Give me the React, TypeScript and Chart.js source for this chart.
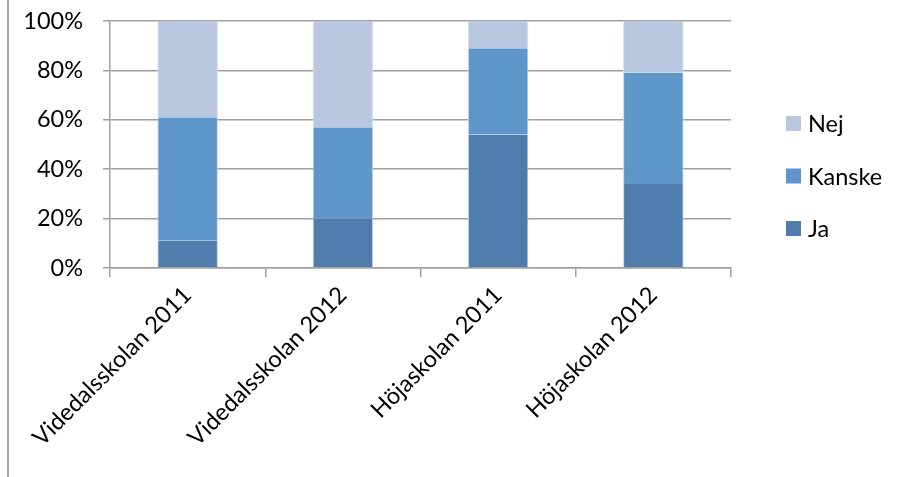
import React, { useEffect, useRef } from "react";
import { Chart, registerables } from "chart.js";

Chart.register(...registerables);

const categories = ["Videdalsskolan 2011", "Videdalsskolan 2012", "Höjaskolan 2011", "Höjaskolan 2012"];
const jaValues = [11, 20, 54, 34];
const kanskeValues = [50, 37, 35, 45];
const nejValues = [39, 43, 11, 21];
const yTicks = [0, 20, 40, 60, 80, 100];

const FONT = "Lato, 'Liberation Sans', sans-serif";
const FONT_SIZE = 23.5;

const legendPlugin = {
  id: "customLegend",
  afterDraw(chart: any) {
    const ctx = chart.ctx;
    const ds = chart.data.datasets.slice().reverse();
    const area = chart.chartArea;
    const x = area.right + 55;
    const centerY = 176;
    const gap = 52.5;
    ctx.save();
    ctx.font = `${FONT_SIZE}px ${FONT}`;
    ctx.textBaseline = "middle";
    ctx.textAlign = "left";
    ds.forEach((d: any, i: number) => {
      const cy = centerY + (i - (ds.length - 1) / 2) * gap;
      ctx.fillStyle = d.backgroundColor;
      ctx.fillRect(x, cy - 7.5, 15, 15);
      ctx.fillStyle = "#000";
      ctx.fillText(d.label, x + 22, cy + 1);
    });
    ctx.restore();
  },
};

const borderPlugin = {
  id: "leftBorder",
  beforeDraw(chart: any) {
    const ctx = chart.ctx;
    ctx.save();
    ctx.fillStyle = "#FFFFFF";
    ctx.fillRect(0, 0, chart.width, chart.height);
    ctx.fillStyle = "#A6A6A6";
    ctx.fillRect(7, 0, 2, chart.height);
    ctx.restore();
  },
};

export default function App() {
  const ref = useRef<HTMLCanvasElement>(null);
  useEffect(() => {
    if (!ref.current) return;
    const chart = new Chart(ref.current, {
      type: "bar",
      data: {
        labels: categories,
        datasets: [
          { label: "Ja", data: jaValues, backgroundColor: "#4F7CAC", borderColor: "#C9D6E8", borderWidth: { left: 1, right: 1 } as any, barPercentage: 0.39, categoryPercentage: 1 },
          { label: "Kanske", data: kanskeValues, backgroundColor: "#5F96CA", borderColor: "#C9D6E8", borderWidth: { left: 1, right: 1 } as any, barPercentage: 0.39, categoryPercentage: 1 },
          { label: "Nej", data: nejValues, backgroundColor: "#B9C7E1", borderColor: "#D5DFEE", borderWidth: { left: 1, right: 1 } as any, barPercentage: 0.39, categoryPercentage: 1 },
        ],
      },
      options: {
        responsive: false,
        animation: false,
        layout: { padding: { left: 0, right: 171, top: 21, bottom: 0 } },
        plugins: { legend: { display: false }, tooltip: { enabled: false } },
        scales: {
          x: {
            stacked: true,
            grid: { display: true, drawOnChartArea: false, drawTicks: true, tickLength: 9, color: "#A0A0A0", lineWidth: 1.5, offset: true },
            border: { display: true, color: "#A0A0A0", width: 1.5 },
            ticks: { color: "#000", font: { family: FONT, size: FONT_SIZE }, minRotation: 45, maxRotation: 45, padding: 4 },
            afterFit(scale: any) { scale.height = 209; scale.paddingLeft = 0; scale.paddingRight = 0; },
          },
          y: {
            stacked: true,
            min: 0,
            max: 100,
            afterBuildTicks(scale: any) { scale.ticks = yTicks.map((v) => ({ value: v })); },
            grid: { color: "#A0A0A0", lineWidth: 1.5, tickLength: 7, drawTicks: true },
            border: { display: true, color: "#A0A0A0", width: 1.5 },
            ticks: { color: "#000", font: { family: FONT, size: FONT_SIZE }, padding: 20, callback: (v: any) => v + "%" },
            afterFit(scale: any) { scale.width = 110; scale.paddingTop = 0; scale.paddingBottom = 0; },
          },
        },
      },
      plugins: [borderPlugin, legendPlugin],
    });
    return () => chart.destroy();
  }, []);
  return (
    <div style={{ position: "absolute", left: 0, top: 0, width: 902, height: 477 }}>
      <canvas ref={ref} width={902} height={477} style={{ display: "block" }} />
    </div>
  );
}
